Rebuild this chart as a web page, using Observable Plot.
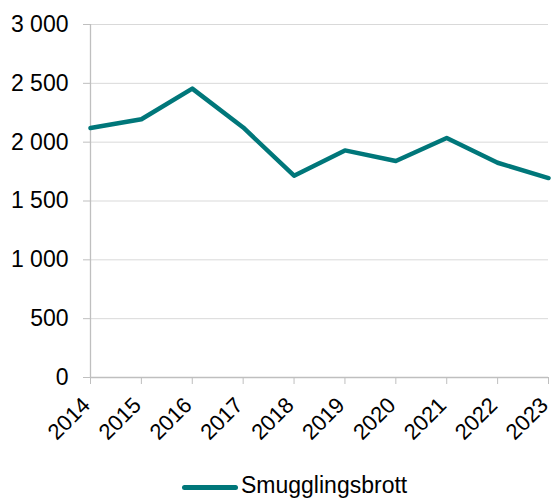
<!DOCTYPE html>
<html>
<head>
<meta charset="utf-8">
<script src="https://cdn.jsdelivr.net/npm/d3@7"></script>
<script src="https://cdn.jsdelivr.net/npm/@observablehq/plot@0.6"></script>
<style>
  html, body { margin: 0; padding: 0; background: #fff; }
  body { width: 552px; height: 499px; overflow: hidden; font-family: "Liberation Sans", Arial, sans-serif; position: relative; }
  #chart svg { display: block; }
  #legend { position: absolute; left: 0; top: 470px; width: 552px; height: 29px; }
  #legend .sw { position: absolute; left: 182px; top: 14.5px; width: 56px; height: 5px; background: #00777A; border-radius: 3px; }
  #legend .lab { position: absolute; left: 241px; top: 2px; font-size: 23px; line-height: 26px; color: #000; white-space: nowrap; }
</style>
</head>
<body>
<div id="chart"></div>
<div id="legend"><div class="sw"></div><div class="lab">Smugglingsbrott</div></div>
<script>
const years = [2014, 2015, 2016, 2017, 2018, 2019, 2020, 2021, 2022, 2023];
const smuggling = [2120, 2195, 2455, 2125, 1715, 1930, 1840, 2035, 1825, 1695];
const yTicks = [0, 500, 1000, 1500, 2000, 2500, 3000];
const seriesName = "Smugglingsbrott";

const data = years.map((y, i) => ({year: y, value: smuggling[i]}));
const fmt = d3.formatLocale({thousands: " ", grouping: [3], decimal: ","}).format(",d");

const chart = Plot.plot({
  width: 552,
  height: 460,
  marginLeft: 90,
  marginRight: 4,
  marginTop: 24,
  marginBottom: 83,
  style: {fontFamily: "'Liberation Sans', Arial, sans-serif", fontSize: "23px", color: "#000", background: "#fff"},
  x: {type: "point", domain: years, padding: 0, round: false},
  y: {domain: [0, 3000]},
  marks: [
    Plot.gridY(yTicks.filter(d => d > 0), {stroke: "#d9d9d9", strokeOpacity: 1, strokeWidth: 1}),
    Plot.ruleX([years[0]], {stroke: "#bfbfbf", strokeWidth: 1.3}),
    Plot.ruleY([0], {stroke: "#bfbfbf", strokeWidth: 1.3}),
    Plot.axisY({ticks: yTicks, tickFormat: fmt, tickSize: 7, tickPadding: 15, stroke: "#bfbfbf", fill: "#000", label: null, fontSize: 23}),
    Plot.axisX({ticks: years, tickFormat: () => "", tickSize: 7, stroke: "#bfbfbf", label: null}),
    Plot.axisX({ticks: years, tickFormat: d => String(d), tickSize: 0, tickPadding: 24, dx: -4, tickRotate: -45, fill: "#000", label: null, fontSize: 22}),
    Plot.line(data, {x: "year", y: "value", stroke: "#00777A", strokeWidth: 4.5, strokeLinejoin: "round"})
  ]
});
document.getElementById("chart").appendChild(chart);
</script>
</body>
</html>
